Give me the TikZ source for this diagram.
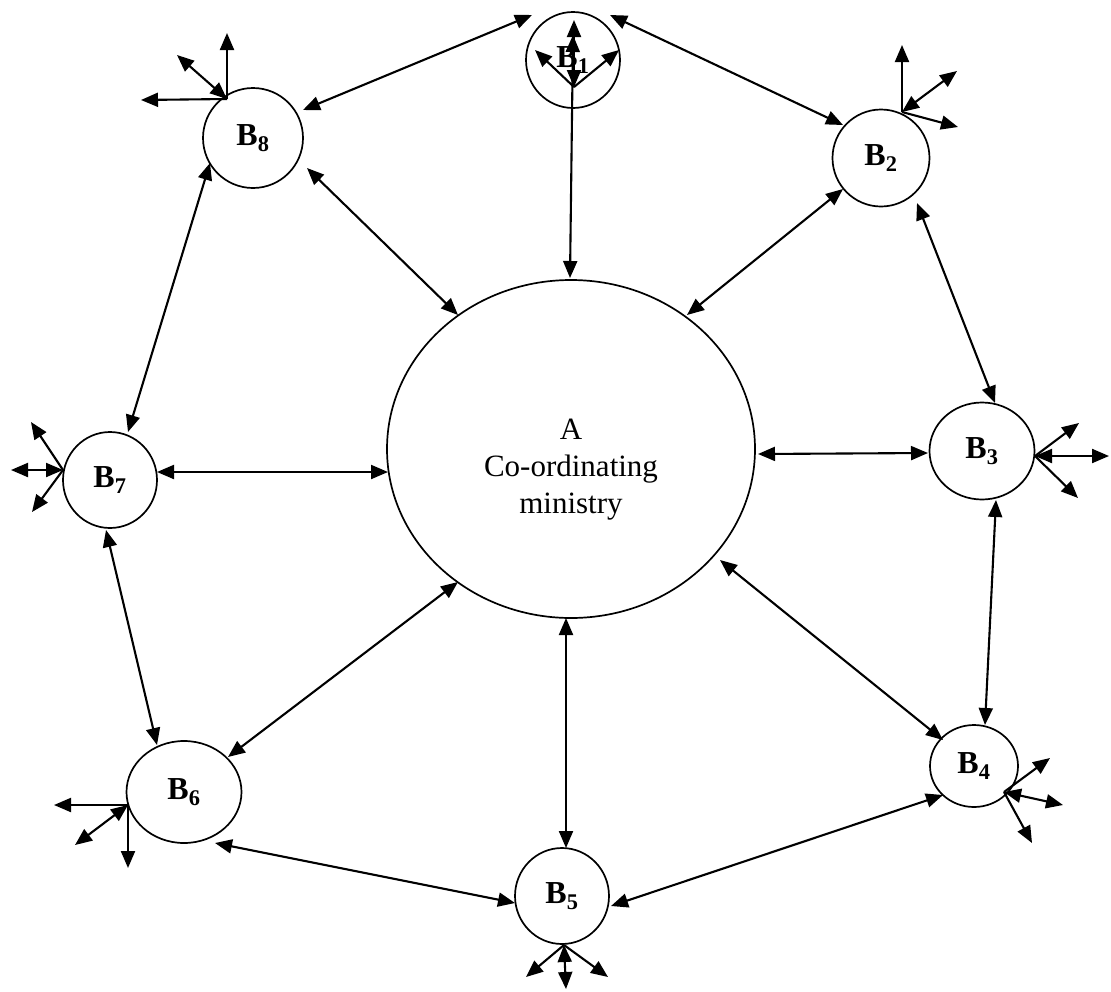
\documentclass[tikz,border=0pt]{standalone}
\usepackage{fontspec}
\setmainfont{Liberation Serif}
\usetikzlibrary{shapes.geometric,arrows.meta,calc}
\begin{document}
\begin{tikzpicture}[x=1pt,y=-1pt,
  >={Triangle[length=17pt,width=14pt]},
  link/.style={line width=2.1pt},
  bnode/.style={ellipse,draw,line width=1.7pt,inner sep=0pt,
    font=\fontsize{32}{38}\selectfont\bfseries},
  hub/.style={ellipse,draw,line width=1.7pt,minimum width=368pt,minimum height=338pt},
  hubtext/.style={align=center,font=\fontsize{31}{37}\selectfont}]
\useasboundingbox (0,0) rectangle (1111,991);

% central ministry
\node[hub] (a) at (571,449) {};
\node[hubtext] (atext) at (571,470) {A\\Co-ordinating\\ministry};

% ring of bodies
\node[bnode,minimum width=94pt,minimum height=96pt]  (b1) at (573,60)  {B\textsubscript{1}};
\node[bnode,minimum width=97pt,minimum height=97pt]  (b2) at (881,158) {B\textsubscript{2}};
\node[bnode,minimum width=105pt,minimum height=97pt] (b3) at (982,451) {B\textsubscript{3}};
\node[bnode,minimum width=88pt,minimum height=82pt]  (b4) at (974,766) {B\textsubscript{4}};
\node[bnode,minimum width=94pt,minimum height=96pt]  (b5) at (562,896) {B\textsubscript{5}};
\node[bnode,minimum width=115pt,minimum height=102pt](b6) at (184,792) {B\textsubscript{6}};
\node[bnode,minimum width=94pt,minimum height=96pt]  (b7) at (110,480) {B\textsubscript{7}};
\node[bnode,minimum width=100pt,minimum height=100pt](b8) at (253,138) {B\textsubscript{8}};

% spokes and ring links
\draw[link,<->] ($(a)+(-1,-171)$) -- ($(b1)+(0,-25)$);
\draw[link,<->] ($(b1)+(-41,-45)$) -- ($(b8)+(50,-28)$);
\draw[link,<->] ($(b1)+(37,-45)$) -- ($(b2)+(-38,-33)$);
\draw[link,<->] ($(b8)+(54,30)$) -- ($(a)+(-113,-134)$);
\draw[link,<->] ($(b2)+(-38,31)$) -- ($(a)+(116,-134)$);
\draw[link,<->] ($(b8)+(-43,25)$) -- ($(b7)+(18,-48)$);
\draw[link,<->] ($(b2)+(36,45)$) -- ($(b3)+(13,-48)$);
\draw[link,<->] ($(b7)+(47,-8)$) -- ($(a)+(-183,23)$);
\draw[link,<->] ($(a)+(187,5)$) -- ($(b3)+(-54,2)$);
\draw[link,<->] ($(b3)+(14,49)$) -- ($(b4)+(11,-41)$);
\draw[link,<->] ($(b7)+(-4,50)$) -- ($(b6)+(-27,-47)$);
\draw[link,<->] ($(a)+(-113,133)$) -- ($(b6)+(44,-35)$);
\draw[link,<->] ($(a)+(-5,169)$) -- ($(b5)+(4,-48)$);
\draw[link,<->] ($(a)+(149,111)$) -- ($(b4)+(-31,-26)$);
\draw[link,<->] ($(b6)+(31,51)$) -- ($(b5)+(-47,7)$);
\draw[link,<->] ($(b5)+(49,10)$) -- ($(b4)+(-31,29)$);

% outward links of each body
\coordinate (f1) at (574,87);
\coordinate (f1a) at (535,50);  \coordinate (f1b) at (619,50);  \coordinate (f1c) at (574,20);
\draw[link,->] (f1) -- (f1a);
\draw[link,->] (f1) -- (f1b);
\draw[link,<->] (f1) -- (f1c);

\coordinate (f8) at (227,99);
\coordinate (f8a) at (227,33);  \coordinate (f8b) at (141,100); \coordinate (f8c) at (177,55);
\draw[link,->] (f8) -- (f8a);
\draw[link,->] (f8) -- (f8b);
\draw[link,<->] (f8) -- (f8c);

\coordinate (f2) at (902,112);
\coordinate (f2a) at (902,45);  \coordinate (f2b) at (957,71);  \coordinate (f2c) at (958,127);
\draw[link,->] (f2) -- (f2a);
\draw[link,<->] (f2) -- (f2b);
\draw[link,->] (f2) -- (f2c);

\coordinate (f7) at (63,470);
\coordinate (f7a) at (31,422);  \coordinate (f7b) at (11,470);  \coordinate (f7c) at (32,512);
\draw[link,->] (f7) -- (f7a);
\draw[link,<->] (f7) -- (f7b);
\draw[link,->] (f7) -- (f7c);

\coordinate (f3) at (1035,456);
\coordinate (f3a) at (1079,423); \coordinate (f3b) at (1109,456); \coordinate (f3c) at (1078,498);
\draw[link,->] (f3) -- (f3a);
\draw[link,<->] (f3) -- (f3b);
\draw[link,->] (f3) -- (f3c);

\coordinate (f4) at (1004,792);
\coordinate (f4a) at (1050,758); \coordinate (f4b) at (1063,805); \coordinate (f4c) at (1032,843);
\draw[link,->] (f4) -- (f4a);
\draw[link,<->] (f4) -- (f4b);
\draw[link,->] (f4) -- (f4c);

\coordinate (f6) at (128,805);
\coordinate (f6a) at (54,805);  \coordinate (f6b) at (75,845);  \coordinate (f6c) at (128,868);
\draw[link,->] (f6) -- (f6a);
\draw[link,<->] (f6) -- (f6b);
\draw[link,->] (f6) -- (f6c);

\coordinate (f5) at (564,945);
\coordinate (f5a) at (526,977); \coordinate (f5b) at (566,989); \coordinate (f5c) at (608,977);
\draw[link,->] (f5) -- (f5a);
\draw[link,<->] (f5) -- (f5b);
\draw[link,->] (f5) -- (f5c);
\end{tikzpicture}
\end{document}
